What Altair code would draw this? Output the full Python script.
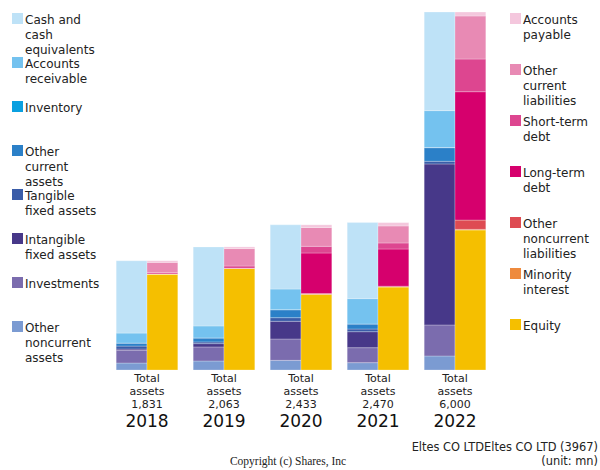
import altair as alt
import pandas as pd

# ---- data (values in mn) ----
years = ["2018", "2019", "2020", "2021", "2022"]
total_assets = [1831, 2063, 2433, 2470, 6000]

# assets, bottom -> top
other_noncurrent_assets = [117, 151, 162, 123, 235]
investments = [212, 235, 358, 251, 520]
intangible_fixed_assets = [22, 56, 296, 268, 2698]
tangible_fixed_assets = [50, 28, 61, 45, 45]
other_current_assets = [50, 67, 134, 84, 229]
inventory = [0, 0, 0, 0, 0]
accounts_receivable = [168, 201, 346, 425, 620]
cash_and_equivalents = [1212, 1325, 1076, 1274, 1653]

# liabilities & equity, bottom -> top
equity = [1609, 1704, 1270, 1393, 2346]
minority_interest = [0, 0, 0, 0, 11]
other_noncurrent_liabilities = [0, 0, 11, 11, 156]
long_term_debt = [0, 0, 680, 624, 2151]
short_term_debt = [22, 39, 112, 101, 548]
other_current_liabilities = [172, 292, 315, 285, 721]
accounts_payable = [28, 28, 45, 56, 67]

asset_names = ["Other noncurrent assets", "Investments", "Intangible fixed assets",
               "Tangible fixed assets", "Other current assets", "Inventory",
               "Accounts receivable", "Cash and cash equivalents"]
asset_series = [other_noncurrent_assets, investments, intangible_fixed_assets,
                tangible_fixed_assets, other_current_assets, inventory,
                accounts_receivable, cash_and_equivalents]
asset_colors = ["#7b9bd2", "#7b6cae", "#473889", "#3a5ca8", "#2b80c8", "#0aa0e0",
                "#74c2ef", "#bee2f7"]

liab_names = ["Equity", "Minority interest", "Other noncurrent liabilities",
              "Long-term debt", "Short-term debt", "Other current liabilities",
              "Accounts payable"]
liab_series = [equity, minority_interest, other_noncurrent_liabilities, long_term_debt,
               short_term_debt, other_current_liabilities, accounts_payable]
liab_colors = ["#f5bf00", "#ee8a3d", "#de4b52", "#d6006d", "#dd4690", "#e88ab4",
               "#f4c7dd"]

left_legend_labels = ["Cash and\ncash\nequivalents", "Accounts\nreceivable", "Inventory",
                      "Other\ncurrent\nassets", "Tangible\nfixed assets",
                      "Intangible\nfixed assets", "Investments",
                      "Other\nnoncurrent\nassets"]
left_legend_names = ["Cash and cash equivalents", "Accounts receivable", "Inventory",
                     "Other current assets", "Tangible fixed assets",
                     "Intangible fixed assets", "Investments", "Other noncurrent assets"]
right_legend_labels = ["Accounts\npayable", "Other\ncurrent\nliabilities",
                       "Short-term\ndebt", "Long-term\ndebt",
                       "Other\nnoncurrent\nliabilities", "Minority\ninterest", "Equity"]
right_legend_names = ["Accounts payable", "Other current liabilities", "Short-term debt",
                      "Long-term debt", "Other noncurrent liabilities",
                      "Minority interest", "Equity"]

# ---- tables ----
rows = []
for i, y in enumerate(years):
    for k, (n, s) in enumerate(zip(asset_names, asset_series)):
        rows.append({"year": y, "idx": i, "side": 0, "ord": k, "name": n, "value": s[i]})
    for k, (n, s) in enumerate(zip(liab_names, liab_series)):
        rows.append({"year": y, "idx": i, "side": 1, "ord": k, "name": n, "value": s[i]})
bars_df = pd.DataFrame(rows)

labels_df = pd.DataFrame({
    "idx": list(range(len(years))),
    "year": years,
    "label": [f"Total\nassets\n{v:,}" for v in total_assets],
})

left_leg = pd.DataFrame({"slot": list(range(len(left_legend_names))),
                         "name": left_legend_names, "label": left_legend_labels})
right_leg = pd.DataFrame({"slot": list(range(len(right_legend_names))),
                          "name": right_legend_names, "label": right_legend_labels})

all_names = asset_names + liab_names
all_colors = asset_colors + liab_colors
color_scale = alt.Scale(domain=all_names, range=all_colors)

FONT = "DejaVu Sans"
xscale = alt.Scale(domain=[0, 4], range=[147, 455])
yscale = alt.Scale(domain=[0, 6000], range=[370, 12])

bars = alt.Chart(bars_df).transform_stack(
    stack="value", groupby=["year", "side"], as_=["y0", "y1"],
    sort=[alt.SortField("ord", order="ascending")]
).transform_calculate(
    xs="datum.idx + (datum.side == 0 ? -0.4 : 0)",
    xe="datum.idx + (datum.side == 0 ? 0 : 0.4)",
).mark_rect(stroke="white", strokeWidth=0.5, strokeOpacity=0.5).encode(
    x=alt.X("xs:Q", scale=xscale, axis=None),
    x2="xe:Q",
    y=alt.Y("y0:Q", scale=yscale, axis=None),
    y2="y1:Q",
    color=alt.Color("name:N", scale=color_scale, legend=None),
)

total_text = alt.Chart(labels_df).mark_text(
    font=FONT, fontSize=11, lineBreak="\n", lineHeight=13, align="center",
    baseline="alphabetic", color="#222"
).encode(
    x=alt.X("idx:Q", scale=xscale, axis=None),
    y=alt.value(382),
    text="label:N",
)

year_text = alt.Chart(labels_df).mark_text(
    font=FONT, fontSize=17, align="center", baseline="alphabetic", color="#111"
).encode(
    x=alt.X("idx:Q", scale=xscale, axis=None),
    y=alt.value(427),
    text="year:N",
)

lscale = alt.Scale(domain=[0, 7], range=[18.5, 326.5])
rscale = alt.Scale(domain=[0, 6], range=[18.5, 324.5])

left_sw = alt.Chart(left_leg).mark_square(size=121, opacity=1).encode(
    x=alt.value(17.5),
    y=alt.Y("slot:Q", scale=lscale, axis=None),
    color=alt.Color("name:N", scale=color_scale, legend=None),
)
left_tx = alt.Chart(left_leg).mark_text(
    font=FONT, fontSize=12, lineBreak="\n", lineHeight=15, align="left",
    baseline="alphabetic", dy=5.5, color="#222"
).encode(
    x=alt.value(25),
    y=alt.Y("slot:Q", scale=lscale, axis=None),
    text="label:N",
)
right_sw = alt.Chart(right_leg).mark_square(size=121, opacity=1).encode(
    x=alt.value(515.5),
    y=alt.Y("slot:Q", scale=rscale, axis=None),
    color=alt.Color("name:N", scale=color_scale, legend=None),
)
right_tx = alt.Chart(right_leg).mark_text(
    font=FONT, fontSize=12, lineBreak="\n", lineHeight=15, align="left",
    baseline="alphabetic", dy=5.5, color="#222"
).encode(
    x=alt.value(523),
    y=alt.Y("slot:Q", scale=rscale, axis=None),
    text="label:N",
)

company = alt.Chart(labels_df.head(1)).mark_text(
    font=FONT, fontSize=11.4, align="right", baseline="alphabetic", color="#222"
).encode(x=alt.value(598), y=alt.value(451),
         text=alt.value("Eltes CO LTDEltes CO LTD (3967)"))
unit = alt.Chart(labels_df.head(1)).mark_text(
    font=FONT, fontSize=11.4, align="right", baseline="alphabetic", color="#222"
).encode(x=alt.value(598), y=alt.value(465), text=alt.value("(unit: mn)"))
copyright_ = alt.Chart(labels_df.head(1)).mark_text(
    font="Liberation Serif", fontSize=11.5, align="center", baseline="alphabetic",
    color="#222"
).encode(x=alt.value(288), y=alt.value(465),
         text=alt.value("Copyright (c) Shares, Inc"))

chart = alt.layer(
    bars, total_text, year_text, left_sw, left_tx, right_sw, right_tx,
    company, unit, copyright_
).resolve_scale(
    x="independent", y="independent"
).properties(
    width=600, height=470, autosize=alt.AutoSizeParams(type="none"), padding=0,
    background="white"
).configure_view(stroke=None)

chart.save("out.html", embed_options={"renderer": "svg", "actions": False})
